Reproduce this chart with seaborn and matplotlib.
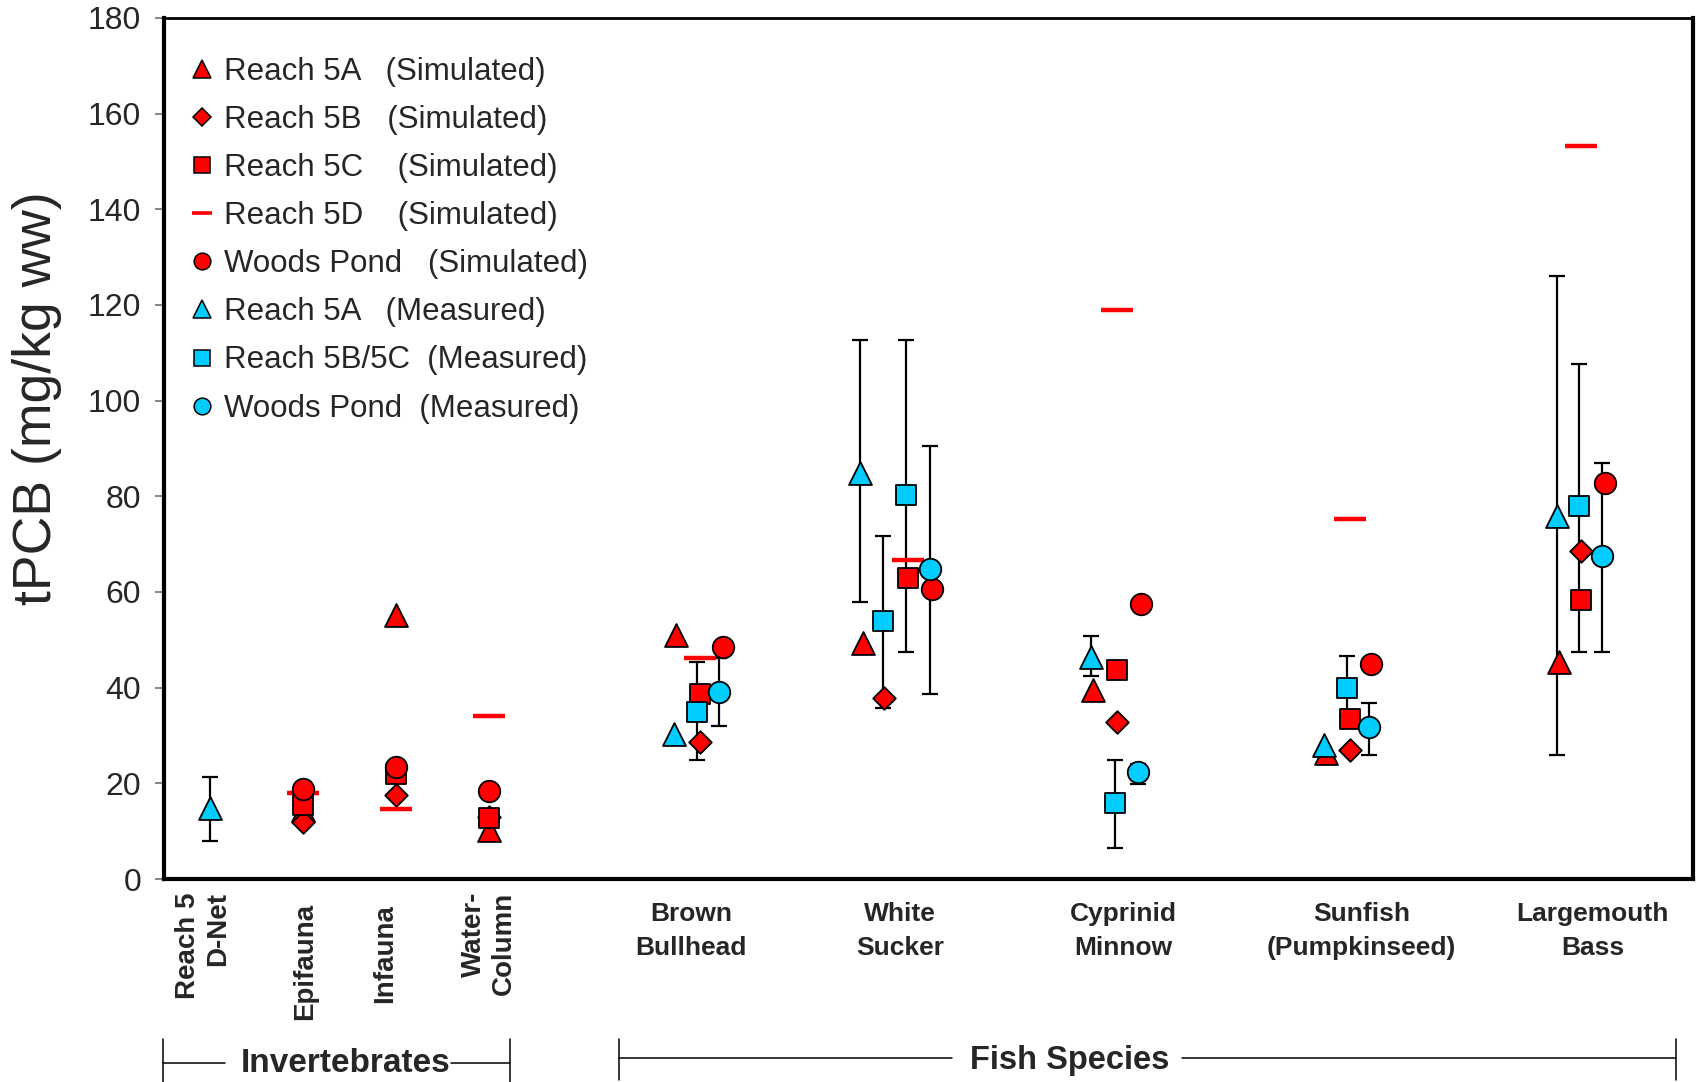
import numpy as np
import pandas as pd
import matplotlib
matplotlib.use("Agg")
import matplotlib.pyplot as plt
from matplotlib.lines import Line2D
import matplotlib.transforms as mtransforms
import seaborn as sns

nan = np.nan

categories = ["Reach 5\nD-Net", "Epifauna", "Infauna", "Water-\nColumn",
              "Brown\nBullhead", "White\nSucker", "Cyprinid\nMinnow",
              "Sunfish\n(Pumpkinseed)", "Largemouth\nBass"]

# simulated tPCB (mg/kg ww)
sim_5a = [nan, 14.5, 55.2, 10.3, 51.1, 49.3, 39.5, 26.3, 45.3]
sim_5b = [nan, 12.0, 17.6, 13.0, 28.7, 37.9, 32.8, 26.9, 68.6]
sim_5c = [nan, 15.4, 22.0, 12.8, 38.6, 62.9, 43.6, 33.5, 58.4]
sim_5d = [nan, 17.9, 14.6, 34.0, 46.3, 66.6, 118.9, 75.2, 153.3]
sim_wp = [nan, 18.8, 23.4, 18.4, 48.6, 60.6, 57.4, 45.0, 82.7]

# measured tPCB with min / max
meas_5a = [14.8, nan, nan, nan, 30.4, 84.9, 46.5, 28.1, 75.9]
meas_5a_lo = [7.9, nan, nan, nan, nan, 58.0, 42.4, nan, 26.0]
meas_5a_hi = [21.3, nan, nan, nan, nan, 112.6, 50.7, nan, 126.0]
meas_5bc = [nan, nan, nan, nan, 34.9, 80.3, 15.9, 40.0, 78.0]
meas_5bc_lo = [nan, nan, nan, nan, 24.8, 47.5, 6.5, 34.0, 47.5]
meas_5bc_hi = [nan, nan, nan, nan, 45.3, 112.6, 24.9, 46.6, 107.7]
meas_5b_ws = [nan, nan, nan, nan, nan, 54.0, nan, nan, nan]
meas_5b_ws_lo = [nan, nan, nan, nan, nan, 35.7, nan, nan, nan]
meas_5b_ws_hi = [nan, nan, nan, nan, nan, 71.8, nan, nan, nan]
meas_wp = [nan, nan, nan, nan, 39.0, 64.8, 22.4, 31.7, 67.5]
meas_wp_lo = [nan, nan, nan, nan, 31.9, 38.7, 19.9, 26.0, 47.5]
meas_wp_hi = [nan, nan, nan, nan, 46.1, 90.6, 24.0, 36.9, 86.9]

# layout: category centres on the x axis and per-series dodge
centers = [0, 1, 2, 3, 5.27, 7.51, 9.77, 12.28, 14.76]
label_x = [-0.08, 1.02, 1.88, 3.0, 5.18, 7.43, 9.83, 12.40, 14.89]
dodge = {
    "sim_5a": [0, 0, 0, 0, -0.25, -0.48, -0.26, -0.26, -0.23],
    "sim_5b": [0, 0, 0, 0, 0, -0.25, 0, 0, 0],
    "sim_5c": [0] * 9,
    "sim_5d": [0] * 9,
    "sim_wp": [0, 0, 0, 0, 0.25, 0.26, 0.25, 0.22, 0.26],
    "meas_5a": [0, 0, 0, 0, -0.28, -0.51, -0.28, -0.29, -0.25],
    "meas_5bc": [0, 0, 0, 0, -0.03, -0.02, -0.03, -0.04, -0.02],
    "meas_5b_ws": [0, 0, 0, 0, 0, -0.27, 0, 0, 0],
    "meas_wp": [0, 0, 0, 0, 0.21, 0.24, 0.22, 0.20, 0.23],
}

series = {
    "sim_5a": (sim_5a, None, None),
    "sim_5b": (sim_5b, None, None),
    "sim_5d": (sim_5d, None, None),
    "sim_5c": (sim_5c, None, None),
    "sim_wp": (sim_wp, None, None),
    "meas_5a": (meas_5a, meas_5a_lo, meas_5a_hi),
    "meas_5bc": (meas_5bc, meas_5bc_lo, meas_5bc_hi),
    "meas_5b_ws": (meas_5b_ws, meas_5b_ws_lo, meas_5b_ws_hi),
    "meas_wp": (meas_wp, meas_wp_lo, meas_wp_hi),
}

rows = []
for name, (vals, lo, hi) in series.items():
    for i, v in enumerate(vals):
        if np.isnan(v):
            continue
        rows.append({
            "series": name,
            "category": categories[i],
            "x": centers[i] + dodge[name][i],
            "value": v,
            "lo": lo[i] if lo is not None else nan,
            "hi": hi[i] if hi is not None else nan,
        })
df = pd.DataFrame(rows)

RED = "#FF0000"
CYAN = "#00CCFF"
styles = {
    "sim_5a": dict(marker="^", color=RED, s=16.5 ** 2),
    "sim_5b": dict(marker="D", color=RED, s=11.5 ** 2),
    "sim_5d": dict(marker="_", color=RED, s=23 ** 2, linewidth=3.2),
    "sim_5c": dict(marker="s", color=RED, s=15 ** 2),
    "sim_wp": dict(marker="o", color=RED, s=15.5 ** 2),
    "meas_5a": dict(marker="^", color=CYAN, s=16.5 ** 2),
    "meas_5bc": dict(marker="s", color=CYAN, s=15 ** 2),
    "meas_5b_ws": dict(marker="s", color=CYAN, s=15 ** 2),
    "meas_wp": dict(marker="o", color=CYAN, s=15.5 ** 2),
}

sns.set_style("white")
plt.rcParams["font.family"] = ["Liberation Sans", "DejaVu Sans"]

fig = plt.figure(figsize=(17.01, 10.82), dpi=100)
ax = fig.add_axes([0.0964, 0.1876, 0.8989, 0.7958])

# error bars (min / max) behind markers
eb = df.dropna(subset=["lo", "hi"])
ax.errorbar(eb["x"], eb["value"], yerr=[eb["value"] - eb["lo"], eb["hi"] - eb["value"]],
            fmt="none", ecolor="black", elinewidth=1.6, capsize=6, capthick=1.6, zorder=2)

for z, (name, st) in enumerate(styles.items()):
    sub = df[df["series"] == name]
    kw = dict(st)
    if kw["marker"] != "_":
        kw["edgecolor"] = "black"
        kw["linewidth"] = 1.3
    sns.scatterplot(data=sub, x="x", y="value", ax=ax, zorder=3 + z, legend=False, **kw)

ax.set_xlim(-0.5, 15.97)
ax.set_ylim(0, 180)
ax.set_yticks(np.arange(0, 181, 20))
ax.set_xticks([])
ax.set_xlabel("")
ax.set_ylabel("")
ax.tick_params(axis="y", which="major", left=True, direction="out", length=6.5,
               width=1.2, color="0.45", labelsize=23, pad=10)
for side, lw in [("left", 3.0), ("bottom", 3.0), ("right", 3.0), ("top", 2.0)]:
    ax.spines[side].set_color("black")
    ax.spines[side].set_linewidth(lw)

ax.text(-0.083, 0.559, "tPCB (mg/kg ww)", transform=ax.transAxes, rotation=90,
        ha="center", va="center", fontsize=38.5)

# legend
leg_handles = [
    Line2D([], [], ls="none", marker="^", ms=13, mfc=RED, mec="black", mew=1.1),
    Line2D([], [], ls="none", marker="D", ms=9, mfc=RED, mec="black", mew=1.1),
    Line2D([], [], ls="none", marker="s", ms=12, mfc=RED, mec="black", mew=1.1),
    Line2D([], [], ls="none", marker="_", ms=14, mec=RED, mew=2.6),
    Line2D([], [], ls="none", marker="o", ms=12, mfc=RED, mec="black", mew=1.1),
    Line2D([], [], ls="none", marker="^", ms=13, mfc=CYAN, mec="black", mew=1.1),
    Line2D([], [], ls="none", marker="s", ms=12, mfc=CYAN, mec="black", mew=1.1),
    Line2D([], [], ls="none", marker="o", ms=12, mfc=CYAN, mec="black", mew=1.1),
]
leg_labels = [
    "Reach 5A   (Simulated)",
    "Reach 5B   (Simulated)",
    "Reach 5C    (Simulated)",
    "Reach 5D    (Simulated)",
    "Woods Pond   (Simulated)",
    "Reach 5A   (Measured)",
    "Reach 5B/5C  (Measured)",
    "Woods Pond  (Measured)",
]
ax.legend(leg_handles, leg_labels, loc="upper left", bbox_to_anchor=(0.018, 0.955),
          frameon=False, fontsize=22.5, handlelength=0.7, handletextpad=0.35,
          labelspacing=0.58, borderpad=0, borderaxespad=0)

# category labels under the axis
blend = mtransforms.blended_transform_factory(ax.transData, ax.transAxes)
inv_top = [-0.0151, -0.028, -0.029, -0.0151]
for i in range(4):
    ax.text(label_x[i], inv_top[i], categories[i], transform=blend, rotation=90,
            ha="center", va="top", multialignment="right", fontsize=20,
            fontweight="bold", linespacing=1.2)
for i in range(4, 9):
    ax.text(label_x[i], -0.027, categories[i], transform=blend,
            ha="center", va="top", multialignment="center", fontsize=19,
            fontweight="bold", linespacing=1.5)

# group brackets
W, H = 1701.0, 1082.0


def fline(x0, y0, x1, y1):
    fig.add_artist(Line2D([x0 / W, x1 / W], [1 - y0 / H, 1 - y1 / H], color="black",
                          lw=1.1, transform=fig.transFigure))


fline(163, 1039, 163, 1082)
fline(510, 1039, 510, 1082)
fline(163, 1063, 225, 1063)
fline(451, 1063, 510, 1063)
fig.text(346 / W, 1 - 1064 / H, "Invertebrates", ha="center", va="center",
         fontsize=24, fontweight="bold")

fline(619, 1039, 619, 1080)
fline(1676, 1039, 1676, 1080)
fline(619, 1058, 952, 1058)
fline(1182, 1058, 1676, 1058)
fig.text(1070 / W, 1 - 1061 / H, "Fish Species", ha="center", va="center",
         fontsize=23.5, fontweight="bold")

fig.savefig("out.png", dpi=100)
